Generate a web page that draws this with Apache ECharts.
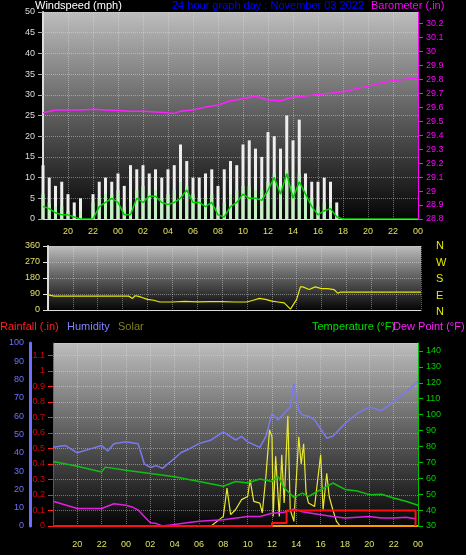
<!DOCTYPE html>
<html>
<head>
<meta charset="utf-8">
<script src="https://cdn.jsdelivr.net/npm/echarts@6/dist/echarts.min.js"></script>
<style>
  html, body { margin: 0; padding: 0; background: #000; }
  #main { width: 466px; height: 555px; }
</style>
</head>
<body>
<div id="main"></div>
<script>
  // hours since 18:00 on the previous day (0..30)
  var windHours = [0,0.5,1,1.5,2,2.5,3,3.5,4,4.5,5,5.5,6,6.5,7,7.5,8,8.5,9,9.5,10,10.5,11,11.5,12,12.5,13,13.5,14,14.5,15,15.5,16,16.5,17,17.5,18,18.5,19,19.5,20,20.5,21,21.5,22,22.5,23,23.5];
  var windGust = [13,10,8,9,6,4,5,0,6,9,10,9,11,8,13,12,13,11,12,10,12,13,18,14,10,10,11,12,8,12,14,13,18,19,17,15,21,20,17,25,19,24,11,9,9,10,9,4];
  var windSpeed = [6,4,3,3,2,1,2,0,4,5,6,6,7,3,4,7,8,6,7,5,6,7,9,8,6,5,5,6,3,4,6,7,8,8,7,7,9,11,8,12,8,11,7,5,3,4,4,1];
  var windAvg = [3,2.5,1.5,1,1,0.5,0,0,0,3,4,5,4,1,1,5,4,5.5,5.5,4,3.5,4,5,7,4,4,3,4,1,0.5,3,4,6,5,5,4.5,7,10,6,11,5,9,6,3,1,2,2.5,0.5];

  var baroHours = [0,1,2,3,4,5,6,7,8,9,10,10.5,11,12,13,14,15,16,17,18,19,20,21,22,23,24,25,26,27,28,29,30];
  var baro = [29.56,29.58,29.58,29.58,29.585,29.58,29.575,29.57,29.57,29.565,29.56,29.555,29.57,29.58,29.6,29.615,29.645,29.66,29.68,29.65,29.645,29.67,29.68,29.69,29.7,29.71,29.73,29.75,29.77,29.79,29.8,29.81];

  var dirHours = [0,0.5,1,3,5,6.5,6.8,7,7.2,7.5,8,8.5,9,10,11,12,13,14,15,16,16.5,17,17.5,18,18.5,19,19.5,20,20.3,20.5,21,21.5,22,22.5,23,23.3,23.5,30];
  var windDir = [85,78,78,78,78,78,65,80,78,72,60,55,45,45,48,46,47,47,45,45,55,65,60,50,45,40,5,60,130,130,115,130,120,120,115,95,100,100];

  var humHours = [0,1,2,3,4,4.5,5,6,7,7.5,8,8.5,9,10,10.5,11,12,13,14,15,15.5,16,17,17.5,18,18.5,19,19.5,19.8,20.2,20.5,21,21.5,22,22.5,23,24,25,26,27,28,29,30];
  var humidity = [43,44,40,42,44,41,45,46,45,34,32,33,31.5,37,40,41.5,45,47,51.5,47,49,46,43,49,61.5,58,61.5,65,78,63,60.6,60,58,53,48,49,56,61.5,65,63,68,73,79];

  var tempHours = [0,2,4,4.3,6,8,10,12,14,15,16,17,18,18.5,19,19.8,20.5,21,22,23,23.5,24,25,26,27,28,29,30];
  var temperature = [70.6,67.5,64,67,65,63,61,58,55,58,57,59.5,58,61,54,48,50.7,48.6,52.8,57,55,53,52,49.7,50,47.6,45.5,43];

  var dewHours = [0,2,4,5,6,6.5,7,7.5,8,8.5,9,10,11,12,14,16,17,18,19,19.8,20.5,22,23,24,26,27,28,29,29.8];
  var dewPoint = [45.5,41,41,44,43,42,40,36,32,31.5,30,31,32,33,34,36,36,38,38.6,40.7,39,37,36,35,36,35,35,35.5,34.5];

  var rainHours = [0,18,18,19.2,19.2,29.8,29.8];
  var rainfall = [0,0,0.02,0.02,0.1,0.1,0];

  var solarHours = [0,13,14,14.3,14.6,15,15.5,16,16.2,16.5,17,17.2,17.5,17.8,18,18.1,18.3,18.6,18.8,19,19.3,19.5,19.8,20.2,20.4,20.6,20.8,21,21.5,22,22.2,22.5,22.7,23,23.3,23.6,30];
  var solar = [0,0,62,245,73,105,170,190,298,159,148,84,320,620,575,62,450,62,460,148,710,105,30,575,400,530,215,148,126,460,105,340,190,105,30,0,0];

  var hourTicks = ['20','22','00','02','04','06','08','10','12','14','16','18','20','22','00'];

  function pairs(xs, ys) {
    return xs.map(function (x, i) { return [x, ys[i]]; });
  }

  var bg = {
    type: 'linear', x: 0, y: 0, x2: 0, y2: 1,
    colorStops: [{ offset: 0, color: '#bdbdbd' }, { offset: 0.45, color: '#666' }, { offset: 1, color: '#050505' }]
  };
  var split = { show: true, lineStyle: { color: 'rgba(225,225,225,0.45)', type: 'dotted' } };
  var font = 'Liberation Sans';

  function timeAxis(idx, showLabel) {
    return {
      type: 'value', gridIndex: idx, min: 0, max: 30, interval: 2,
      axisLine: { show: true, lineStyle: { color: '#ddd' } },
      axisTick: { show: false },
      splitLine: split,
      axisLabel: {
        show: showLabel, color: '#e0e060', fontSize: 9, fontFamily: font, margin: idx === 2 ? 14 : 8,
        formatter: function (v) { return v === 0 ? '' : hourTicks[v / 2 - 1]; }
      }
    };
  }

  var myChart = echarts.init(document.getElementById('main'));
  var option = {
    backgroundColor: '#000',
    animation: false,
    grid: [
      { left: 43, right: 48, top: 12, height: 207, show: true, backgroundColor: bg, borderWidth: 0 },
      { left: 48, right: 45, top: 246, height: 64, show: true, backgroundColor: bg, borderWidth: 0 },
      { left: 53, right: 48, top: 343, height: 183, show: true, backgroundColor: bg, borderWidth: 0 }
    ],
    xAxis: [timeAxis(0, true), timeAxis(1, false), timeAxis(2, true)],
    yAxis: [
      { type: 'value', gridIndex: 0, min: 0, max: 50, interval: 5,
        axisLine: { show: true, lineStyle: { color: '#ddd', width: 2 } }, axisTick: { show: true, lineStyle: { color: '#aaa' } },
        axisLabel: { color: '#ddd', fontSize: 9, fontFamily: font }, splitLine: split },
      { type: 'value', gridIndex: 0, position: 'right', min: 28.8, max: 30.28, interval: 0.1,
        axisLine: { show: true, lineStyle: { color: '#ff00ff' } }, axisTick: { show: true },
        axisLabel: { color: '#ff00ff', fontSize: 9, fontFamily: font, showMaxLabel: false,
          formatter: function (v) { return +v.toFixed(1); } }, splitLine: { show: false } },
      { type: 'value', gridIndex: 1, min: 0, max: 360, interval: 90,
        axisLine: { show: true, lineStyle: { color: '#ddd', width: 2 } }, axisTick: { show: true },
        axisLabel: { color: '#e0e060', fontSize: 9, fontFamily: font }, splitLine: split },
      { type: 'value', gridIndex: 2, position: 'left', min: 0, max: 1.18, interval: 0.1,
        axisLine: { show: true, lineStyle: { color: '#ff2020', type: 'dotted' } }, axisTick: { show: true },
        axisLabel: { color: '#e00000', fontSize: 9, fontFamily: font, showMaxLabel: false,
          formatter: function (v) { return +v.toFixed(1); } }, splitLine: split },
      { type: 'value', gridIndex: 2, position: 'left', min: 0, max: 100, interval: 10, offset: 23,
        axisLine: { show: true, lineStyle: { color: '#6f6fff', width: 3 } }, axisTick: { show: false },
        axisLabel: { color: '#7070ff', fontSize: 9, fontFamily: font, margin: 6 }, splitLine: { show: false } },
      { type: 'value', gridIndex: 2, position: 'right', min: 30, max: 145, interval: 10,
        axisLine: { show: true, lineStyle: { color: '#00c000' } }, axisTick: { show: true },
        axisLabel: { color: '#00d000', fontSize: 9, fontFamily: font, showMaxLabel: false }, splitLine: { show: false } },
      { type: 'value', gridIndex: 2, position: 'right', min: 0, max: 1180, show: false }
    ],
    series: [
      { name: 'Gust', type: 'bar', xAxisIndex: 0, yAxisIndex: 0, data: pairs(windHours, windGust),
        barWidth: 3, barGap: '-100%', itemStyle: { color: '#eeeeee' } },
      { name: 'Speed', type: 'bar', xAxisIndex: 0, yAxisIndex: 0, data: pairs(windHours, windSpeed),
        barWidth: 3, barGap: '-100%', itemStyle: { color: '#c4f0c4' } },
      { name: 'Average', type: 'line', xAxisIndex: 0, yAxisIndex: 0, data: pairs(windHours.concat([24, 30]), windAvg.concat([0, 0])),
        showSymbol: false, lineStyle: { color: '#00d000', width: 1.5 } },
      { name: 'Barometer', type: 'line', xAxisIndex: 0, yAxisIndex: 1, data: pairs(baroHours, baro),
        showSymbol: false, lineStyle: { color: '#ff20ff', width: 1.5 } },
      { name: 'Direction', type: 'line', xAxisIndex: 1, yAxisIndex: 2, data: pairs(dirHours, windDir),
        showSymbol: false, lineStyle: { color: '#e8e800', width: 1.2 } },
      { name: 'Solar', type: 'line', xAxisIndex: 2, yAxisIndex: 6, data: pairs(solarHours, solar),
        showSymbol: false, lineStyle: { color: '#e8e830', width: 1.2 }, z: 3 },
      { name: 'Humidity', type: 'line', xAxisIndex: 2, yAxisIndex: 4, data: pairs(humHours, humidity),
        showSymbol: false, lineStyle: { color: '#7a7aee', width: 1.5 } },
      { name: 'Temperature', type: 'line', xAxisIndex: 2, yAxisIndex: 5, data: pairs(tempHours, temperature),
        showSymbol: false, lineStyle: { color: '#10c010', width: 1.5 } },
      { name: 'Dew Point', type: 'line', xAxisIndex: 2, yAxisIndex: 5, data: pairs(dewHours, dewPoint),
        showSymbol: false, lineStyle: { color: '#e020e0', width: 1.5 } },
      { name: 'Rain rate', type: 'line', xAxisIndex: 2, yAxisIndex: 3, data: [[0, 0], [30, 0]],
        showSymbol: false, lineStyle: { color: '#ff9900', width: 2 } },
      { name: 'Rainfall', type: 'line', xAxisIndex: 2, yAxisIndex: 3, data: pairs(rainHours, rainfall),
        showSymbol: false, lineStyle: { color: '#ff1010', width: 2 }, z: 4 }
    ],
    graphic: [
      { type: 'text', left: 35, top: 0, style: { text: 'Windspeed (mph)', fill: '#fff', font: '11px ' + font } },
      { type: 'text', left: 172, top: 0, style: { text: '24 hour graph day : November 03 2022', fill: '#0000ff', font: '11px ' + font } },
      { type: 'text', left: 371, top: 0, style: { text: 'Barometer (.in)', fill: '#ff00ff', font: '11px ' + font } },
      { type: 'text', left: 436, top: 238, style: { text: 'N\nW\nS\nE\nN', fill: '#e8e800', font: '11px ' + font, lineHeight: 16.5 } },
      { type: 'text', left: 0, top: 321, style: { text: 'Rainfall (.in)', fill: '#ff2020', font: '11px ' + font } },
      { type: 'text', left: 67, top: 321, style: { text: 'Humidity', fill: '#8080ff', font: '11px ' + font } },
      { type: 'text', left: 118, top: 321, style: { text: 'Solar', fill: '#808020', font: '11px ' + font } },
      { type: 'text', left: 312, top: 321, style: { text: 'Temperature (°F)', fill: '#00dd00', font: '11px ' + font } },
      { type: 'text', left: 393, top: 321, style: { text: 'Dew Point (°F)', fill: '#ff20ff', font: '11px ' + font } }
    ]
  };
  myChart.setOption(option);
</script>
</body>
</html>
